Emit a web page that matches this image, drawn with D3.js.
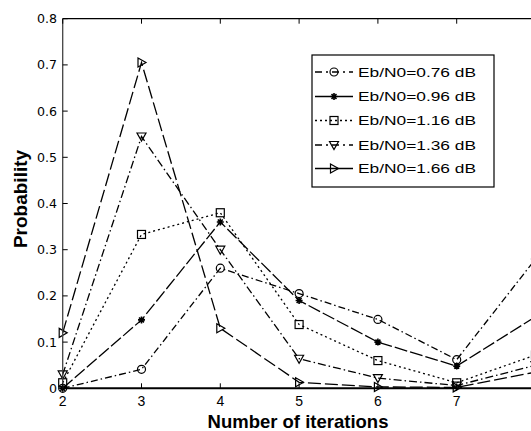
<!DOCTYPE html>
<html><head><meta charset="utf-8">
<script src="https://cdn.jsdelivr.net/npm/d3@7"></script>
<style>body{margin:0;background:#fff}svg{display:block}</style>
</head><body>
<script>
const iterations = [2, 3, 4, 5, 6, 7, 8];
const seriesNames = ["Eb/N0=0.76 dB", "Eb/N0=0.96 dB", "Eb/N0=1.16 dB", "Eb/N0=1.36 dB", "Eb/N0=1.66 dB"];
const p076 = [0.0, 0.041, 0.26, 0.205, 0.149, 0.062, 0.28];
const p096 = [0.0, 0.148, 0.36, 0.19, 0.10, 0.048, 0.155];
const p116 = [0.012, 0.333, 0.38, 0.138, 0.06, 0.012, 0.072];
const p136 = [0.03, 0.545, 0.30, 0.064, 0.022, 0.006, 0.05];
const p166 = [0.12, 0.705, 0.13, 0.013, 0.003, 0.002, 0.035];
const xTicks = [2, 3, 4, 5, 6, 7];
const yTicks = [0, 0.1, 0.2, 0.3, 0.4, 0.5, 0.6, 0.7, 0.8];
const yTickLabels = ["0", "0.1", "0.2", "0.3", "0.4", "0.5", "0.6", "0.7", "0.8"];

const W = 531, H = 431;
const svg = d3.select("body").append("svg").attr("width", W).attr("height", H);
const x = d3.scaleLinear().domain([2, 8]).range([62.7, 535.5]);
const y = d3.scaleLinear().domain([0, 0.8]).range([388.3, 18.7]);

const styles = [
  {marker: "circle", plotDash: "7,3,1.5,3", legendDash: "7,4,2,4"},
  {marker: "star", plotDash: "13,3", legendDash: null},
  {marker: "square", plotDash: "2,3", legendDash: "2,3"},
  {marker: "down", plotDash: "8,3,1.5,3", legendDash: "7,4,2,4"},
  {marker: "right", plotDash: "13,4", legendDash: null}
];
const data = [p076, p096, p116, p136, p166];

function drawMarker(g, type, cx, cy) {
  const s = 4;
  if (type === "circle") {
    g.append("circle").attr("cx", cx).attr("cy", cy).attr("r", s).attr("fill", "none").attr("stroke", "#000").attr("stroke-width", 1.2);
  } else if (type === "square") {
    g.append("rect").attr("x", cx - s).attr("y", cy - s).attr("width", 2 * s).attr("height", 2 * s).attr("fill", "none").attr("stroke", "#000").attr("stroke-width", 1.2);
  } else if (type === "down") {
    g.append("path").attr("d", `M${cx - 4.5},${cy - 3.5}L${cx + 4.5},${cy - 3.5}L${cx},${cy + 4.5}Z`).attr("fill", "none").attr("stroke", "#000").attr("stroke-width", 1.2);
  } else if (type === "right") {
    g.append("path").attr("d", `M${cx - 3.5},${cy - 4.5}L${cx + 4.5},${cy}L${cx - 3.5},${cy + 4.5}Z`).attr("fill", "none").attr("stroke", "#000").attr("stroke-width", 1.2);
  } else if (type === "star") {
    const r = 3.5;
    let d = "";
    for (let k = 0; k < 4; k++) {
      const a = k * Math.PI / 4;
      d += `M${cx - r * Math.cos(a)},${cy - r * Math.sin(a)}L${cx + r * Math.cos(a)},${cy + r * Math.sin(a)}`;
    }
    g.append("path").attr("d", d).attr("stroke", "#000").attr("stroke-width", 1.6);
  }
}

// lines
const line = d3.line().x((d, i) => x(iterations[i])).y(d => y(d));
data.forEach((vals, si) => {
  svg.append("path").datum(vals).attr("d", line).attr("fill", "none")
    .attr("stroke", "#000").attr("stroke-width", 1.3)
    .attr("stroke-dasharray", styles[si].plotDash);
});
data.forEach((vals, si) => {
  const g = svg.append("g");
  vals.forEach((v, i) => drawMarker(g, styles[si].marker, x(iterations[i]), y(v)));
});

// axes frame
svg.append("line").attr("x1", x(2)).attr("x2", W).attr("y1", y(0)).attr("y2", y(0)).attr("stroke", "#000").attr("stroke-width", 2);
svg.append("line").attr("x1", x(2)).attr("x2", W).attr("y1", y(0.8)).attr("y2", y(0.8)).attr("stroke", "#000").attr("stroke-width", 1.3);
svg.append("line").attr("x1", x(2)).attr("x2", x(2)).attr("y1", y(0.8)).attr("y2", y(0)).attr("stroke", "#444").attr("stroke-width", 1.3);

// x ticks
xTicks.forEach(t => {
  svg.append("line").attr("x1", x(t)).attr("x2", x(t)).attr("y1", y(0)).attr("y2", y(0) - 5).attr("stroke", "#000").attr("stroke-width", 1);
  svg.append("line").attr("x1", x(t)).attr("x2", x(t)).attr("y1", y(0.8)).attr("y2", y(0.8) + 5).attr("stroke", "#000").attr("stroke-width", 1);
  svg.append("text").attr("x", x(t)).attr("y", 405.5).attr("text-anchor", "middle")
    .attr("font-family", "Liberation Sans, Arial").attr("font-size", 14).text(t);
});
// y ticks
yTicks.forEach((t, i) => {
  svg.append("line").attr("x1", x(2)).attr("x2", x(2) + 5).attr("y1", y(t)).attr("y2", y(t)).attr("stroke", "#000").attr("stroke-width", 1);
  svg.append("text").attr("x", 57).attr("y", y(t) + 4.5).attr("text-anchor", "end")
    .attr("font-family", "DejaVu Sans").attr("font-size", 12.6).text(yTickLabels[i]);
});

// axis labels
svg.append("text").attr("x", 298).attr("y", 428).attr("text-anchor", "middle")
  .attr("font-family", "Liberation Sans, Arial").attr("font-weight", "bold").attr("font-size", 18.5)
  .text("Number of iterations");
svg.append("text").attr("transform", "translate(27,199) rotate(-90)").attr("text-anchor", "middle")
  .attr("font-family", "Liberation Sans, Arial").attr("font-weight", "bold").attr("font-size", 19)
  .text("Probability");

// legend
svg.append("rect").attr("x", 312).attr("y", 55).attr("width", 182).attr("height", 132)
  .attr("fill", "#fff").attr("stroke", "#000").attr("stroke-width", 1.2);
const rowsY = [72, 96.5, 120.5, 145, 168.5];
seriesNames.forEach((name, si) => {
  const g = svg.append("g");
  const ly = rowsY[si];
  g.append("line").attr("x1", 315).attr("x2", 353).attr("y1", ly).attr("y2", ly)
    .attr("stroke", "#000").attr("stroke-width", 1.3)
    .attr("stroke-dasharray", styles[si].legendDash);
  drawMarker(g, styles[si].marker, 334, ly);
  g.append("text").attr("x", 358).attr("y", ly + 4.6).attr("font-family", "Liberation Sans, Arial")
    .attr("font-size", 13.5).attr("textLength", 118).attr("lengthAdjust", "spacingAndGlyphs").text(name);
});
</script>
</body></html>
